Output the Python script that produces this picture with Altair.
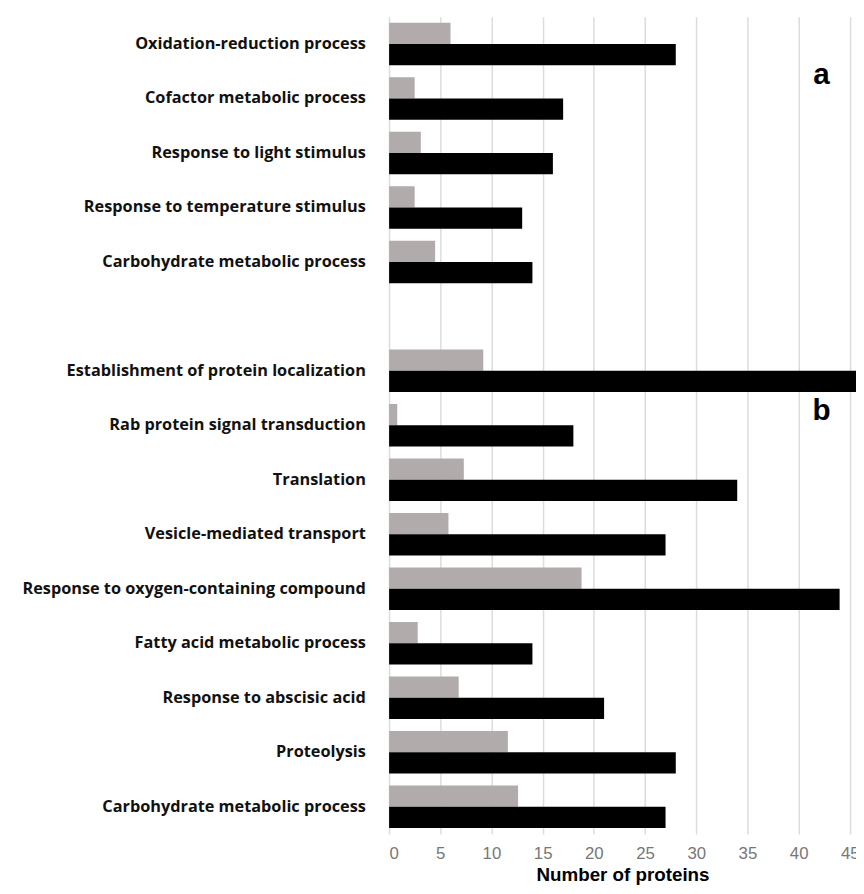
import altair as alt
import pandas as pd

categories = [
    "Oxidation-reduction process",
    "Cofactor metabolic process",
    "Response to light stimulus",
    "Response to temperature stimulus",
    "Carbohydrate metabolic process",
    " ",
    "Establishment of protein localization",
    "Rab protein signal transduction",
    "Translation",
    "Vesicle-mediated transport",
    "Response to oxygen-containing compound",
    "Fatty acid metabolic process",
    "Response to abscisic acid",
    "Proteolysis",
    "Carbohydrate metabolic process\u200b",
]
gray_values = [6, 2.5, 3.1, 2.5, 4.5, None, 9.2, 0.8, 7.3, 5.8, 18.8, 2.8, 6.8, 11.6, 12.6]
black_values = [28, 17, 16, 13, 14, None, 48, 18, 34, 27, 44, 14, 21, 28, 27]

rows = []
for c, g, b in zip(categories, gray_values, black_values):
    if g is not None:
        rows.append({"cat": c, "series": "1", "value": g})
        rows.append({"cat": c, "series": "2", "value": b})
df = pd.DataFrame(rows)

bars = alt.Chart(df).mark_bar(clip=True).encode(
    y=alt.Y("cat:N", sort=categories,
            scale=alt.Scale(domain=categories, paddingInner=0.22, paddingOuter=0.11),
            axis=alt.Axis(title=None, domain=False, ticks=False, labelFont="Open Sans",
                          labelFontWeight="bold", labelFontSize=16.5, labelColor="#111",
                          labelPadding=24, labelLimit=400)),
    yOffset=alt.YOffset("series:N", sort=["1", "2"]),
    x=alt.X("value:Q", scale=alt.Scale(domain=[0, 45.6], nice=False),
            axis=alt.Axis(values=list(range(0, 50, 5)), title="Number of proteins",
                          titleFont="Arial", titleFontSize=19, titleFontWeight="bold",
                          titleColor="#000", titlePadding=4,
                          labelFont="Arial", labelFontSize=17, labelColor="#777",
                          labelPadding=12, domain=False, ticks=False,
                          gridColor="#dcdcdc", gridWidth=1.5)),
    color=alt.Color("series:N", scale=alt.Scale(domain=["1", "2"], range=["#b1abab", "#000000"]),
                    legend=None),
)

letters = pd.DataFrame({"t": ["a", "b"], "py": [59, 400]})
text = alt.Chart(letters).mark_text(fontSize=30, fontWeight="bold", font="Arial", color="#000").encode(
    text="t:N", x=alt.value(438), y=alt.Y("py:Q", scale=None)
)

chart = alt.layer(bars, text).properties(
    width=473, height=828,
    autosize=alt.AutoSizeParams(type="none"),
    padding={"left": 386, "top": 3, "right": 0, "bottom": 60},
).configure_view(stroke=None)

chart.save("out.html", embed_options={"renderer": "svg", "actions": False})
